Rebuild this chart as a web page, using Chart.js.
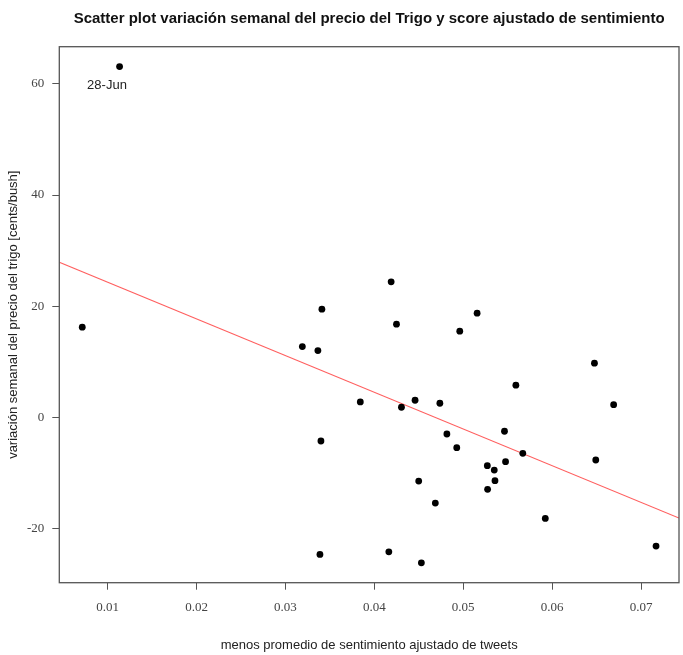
<!DOCTYPE html>
<html>
<head>
<meta charset="utf-8">
<script src="https://cdn.jsdelivr.net/npm/chart.js@4"></script>
<style>
  html, body { margin: 0; padding: 0; background: #ffffff; }
  #wrap { width: 683px; height: 655px; }
</style>
</head>
<body>
<div id="wrap"><canvas id="c" width="683" height="655"></canvas></div>
<script>
// ---- data ----
const sentimentX = [0.01134, 0.00714, 0.04189, 0.03410, 0.05156, 0.04249, 0.04961, 0.03190, 0.03365,
  0.03842, 0.04305, 0.04458, 0.04737, 0.03399, 0.04816, 0.04927, 0.05271, 0.05349, 0.05357, 0.05274,
  0.04499, 0.04686, 0.03388, 0.04163, 0.04529, 0.06476, 0.05592, 0.06692, 0.05464, 0.05670, 0.05476,
  0.06491, 0.05923, 0.07169];
const priceChangeY = [63.12, 16.22, 24.38, 19.46, 18.74, 16.76, 15.50, 12.72, 12.00,
  2.76, 1.80, 3.06, 2.52, -4.27, -3.01, -5.48, -8.72, -9.50, -11.42, -12.97,
  -11.48, -15.44, -24.68, -24.22, -26.20, 9.73, 5.77, 2.27, -2.52, -6.49, -8.00,
  -7.69, -18.20, -23.19];
const xTickValues = [0.01, 0.02, 0.03, 0.04, 0.05, 0.06, 0.07];
const yTickValues = [-20, 0, 20, 40, 60];
const fitIntercept = 30.92;
const fitSlope = -660.5;
const annotatedIndex = 0;
const annotatedLabel = '28-Jun';
const chartTitle = 'Scatter plot variación semanal del precio del Trigo y score ajustado de sentimiento';
const xTitle = 'menos promedio de sentimiento ajustado de tweets';
const yTitle = 'variación semanal del precio del trigo [cents/bush]';

// R-style axis range (4% extension)
function rRange(arr) {
  const mn = Math.min(...arr), mx = Math.max(...arr), r = mx - mn;
  return [mn - 0.04 * r, mx + 0.04 * r];
}
const [xMin, xMax] = rRange(sentimentX);
const [yMin, yMax] = rRange(priceChangeY);

const points = sentimentX.map((x, i) => ({ x: x, y: priceChangeY[i] }));
const fitLine = [xMin, xMax].map(x => ({ x: x, y: fitIntercept + fitSlope * x }));

const decorPlugin = {
  id: 'decor',
  afterDatasetsDraw(chart) {
    const ctx = chart.ctx, a = chart.chartArea;
    ctx.save();
    ctx.strokeStyle = '#555555';
    ctx.lineWidth = 1.3;
    ctx.strokeRect(a.left, a.top, a.right - a.left, a.bottom - a.top);
    const xs = chart.scales.x, ys = chart.scales.y;
    const px = xs.getPixelForValue(sentimentX[annotatedIndex]);
    const py = ys.getPixelForValue(priceChangeY[annotatedIndex]);
    ctx.fillStyle = '#222222';
    ctx.font = '13px "Liberation Sans", Arial, sans-serif';
    ctx.textAlign = 'center';
    ctx.textBaseline = 'middle';
    ctx.fillText(annotatedLabel, px - 12.6, py + 19);
    ctx.font = 'bold 15px "Liberation Sans", Arial, sans-serif';
    ctx.fillStyle = '#111111';
    ctx.fillText(chartTitle, (a.left + a.right) / 2, 19);
    ctx.restore();
  }
};

new Chart(document.getElementById('c'), {
  type: 'scatter',
  data: {
    datasets: [
      {
        type: 'line',
        data: fitLine,
        borderColor: 'rgba(255,40,40,0.75)',
        borderWidth: 1.2,
        pointRadius: 0,
        fill: false,
        order: 2
      },
      {
        data: points,
        backgroundColor: '#000000',
        borderColor: '#000000',
        borderWidth: 0,
        pointRadius: 3.4,
        order: 1
      }
    ]
  },
  options: {
    responsive: false,
    animation: false,
    devicePixelRatio: 1,
    layout: { padding: { top: 46.7, right: 2, left: 0, bottom: 0 } },
    plugins: { legend: { display: false }, tooltip: { enabled: false }, title: { display: false } },
    scales: {
      x: {
        type: 'linear',
        min: xMin, max: xMax,
        afterBuildTicks: s => { s.ticks = xTickValues.map(v => ({ value: v })); },
        afterFit: s => { s.height = 72.3; },
        border: { display: false },
        grid: { drawOnChartArea: false, drawTicks: true, tickLength: 7, color: '#555555', lineWidth: 1 },
        ticks: {
          color: '#444444', padding: 10, maxRotation: 0, autoSkip: false,
          font: { family: '"Liberation Serif", "Times New Roman", serif', size: 13 },
          callback: v => v.toFixed(2)
        },
        title: {
          display: true, text: xTitle, color: '#222222',
          font: { family: '"Liberation Sans", Arial, sans-serif', size: 13 },
          padding: { top: 0, bottom: 2 }
        }
      },
      y: {
        type: 'linear',
        min: yMin, max: yMax,
        afterBuildTicks: s => { s.ticks = yTickValues.map(v => ({ value: v })); },
        afterFit: s => { s.width = 59.3; },
        border: { display: false },
        grid: { drawOnChartArea: false, drawTicks: true, tickLength: 7, color: '#555555', lineWidth: 1 },
        ticks: {
          color: '#444444', padding: 8, autoSkip: false,
          font: { family: '"Liberation Serif", "Times New Roman", serif', size: 13 },
          callback: v => String(v)
        },
        title: {
          display: true, text: yTitle, color: '#222222',
          font: { family: '"Liberation Sans", Arial, sans-serif', size: 13 },
          padding: { top: 6, bottom: 0 }
        }
      }
    }
  },
  plugins: [decorPlugin]
});
</script>
</body>
</html>
